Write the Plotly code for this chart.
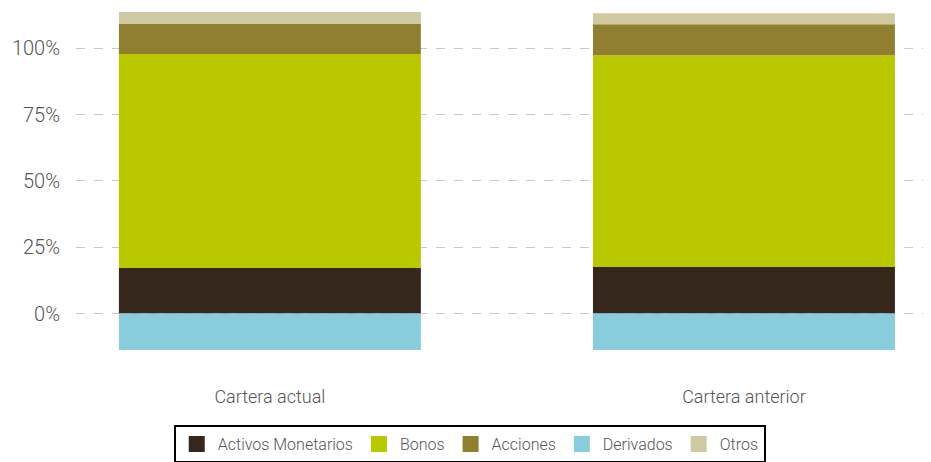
import plotly.graph_objects as go

categories = ["Cartera actual", "Cartera anterior"]
activos_monetarios = [0.172, 0.175]
bonos = [0.807, 0.799]
acciones = [0.113, 0.117]
derivados = [-0.138, -0.138]
otros = [0.045, 0.041]

series = [
    ("Activos Monetarios", activos_monetarios, "#35271c"),
    ("Bonos", bonos, "#bac800"),
    ("Acciones", acciones, "#917f31"),
    ("Derivados", derivados, "#89cddd"),
    ("Otros", otros, "#cfc9a2"),
]

y_ticks = [0, 0.25, 0.5, 0.75, 1.0]
y_tick_labels = ["0%", "25%", "50%", "75%", "100%"]

FONT = "Roboto"

fig = go.Figure()
for name, vals, color in series:
    fig.add_trace(go.Bar(
        x=[0, 1], y=vals, name=name,
        marker=dict(color=color, line=dict(width=0)),
        width=0.637, showlegend=False,
    ))
# legend entries with larger square swatches
for name, vals, color in series:
    fig.add_trace(go.Scatter(
        x=[None], y=[None], mode="markers", name=name,
        marker=dict(symbol="square", size=20, color=color),
        showlegend=True,
    ))

fig.update_layout(
    width=923, height=454,
    barmode="relative",
    plot_bgcolor="white", paper_bgcolor="white",
    margin=dict(l=68, r=0, t=0, b=102, autoexpand=False),
    font=dict(family=FONT, color="#555555", size=17, weight=300),
    showlegend=True,
    legend=dict(
        orientation="h", x=0.4605, xanchor="center", y=-0.185, yanchor="top",
        bordercolor="#000000", borderwidth=2,
        font=dict(family=FONT, size=16, color="#555555", weight=300),
        traceorder="normal",
        itemwidth=32,
    ),
    xaxis=dict(
        range=[-0.409, 1.3946],
        tickvals=[0, 1], ticktext=categories,
        showgrid=False, zeroline=False, showline=False,
        ticks="", ticklabelstandoff=24,
        tickfont=dict(family=FONT, size=18, color="#555555", weight=300),
        fixedrange=True,
    ),
    yaxis=dict(
        range=[-0.1753, 1.152],
        tickvals=y_ticks, ticktext=y_tick_labels,
        showgrid=True, gridcolor="#c8c8c8", griddash="dash", gridwidth=1,
        zeroline=False, showline=False, ticks="",
        ticklabelstandoff=15,
        tickfont=dict(family=FONT, size=20, color="#555555", weight=300),
        fixedrange=True,
    ),
)

fig.write_html("out.html")
